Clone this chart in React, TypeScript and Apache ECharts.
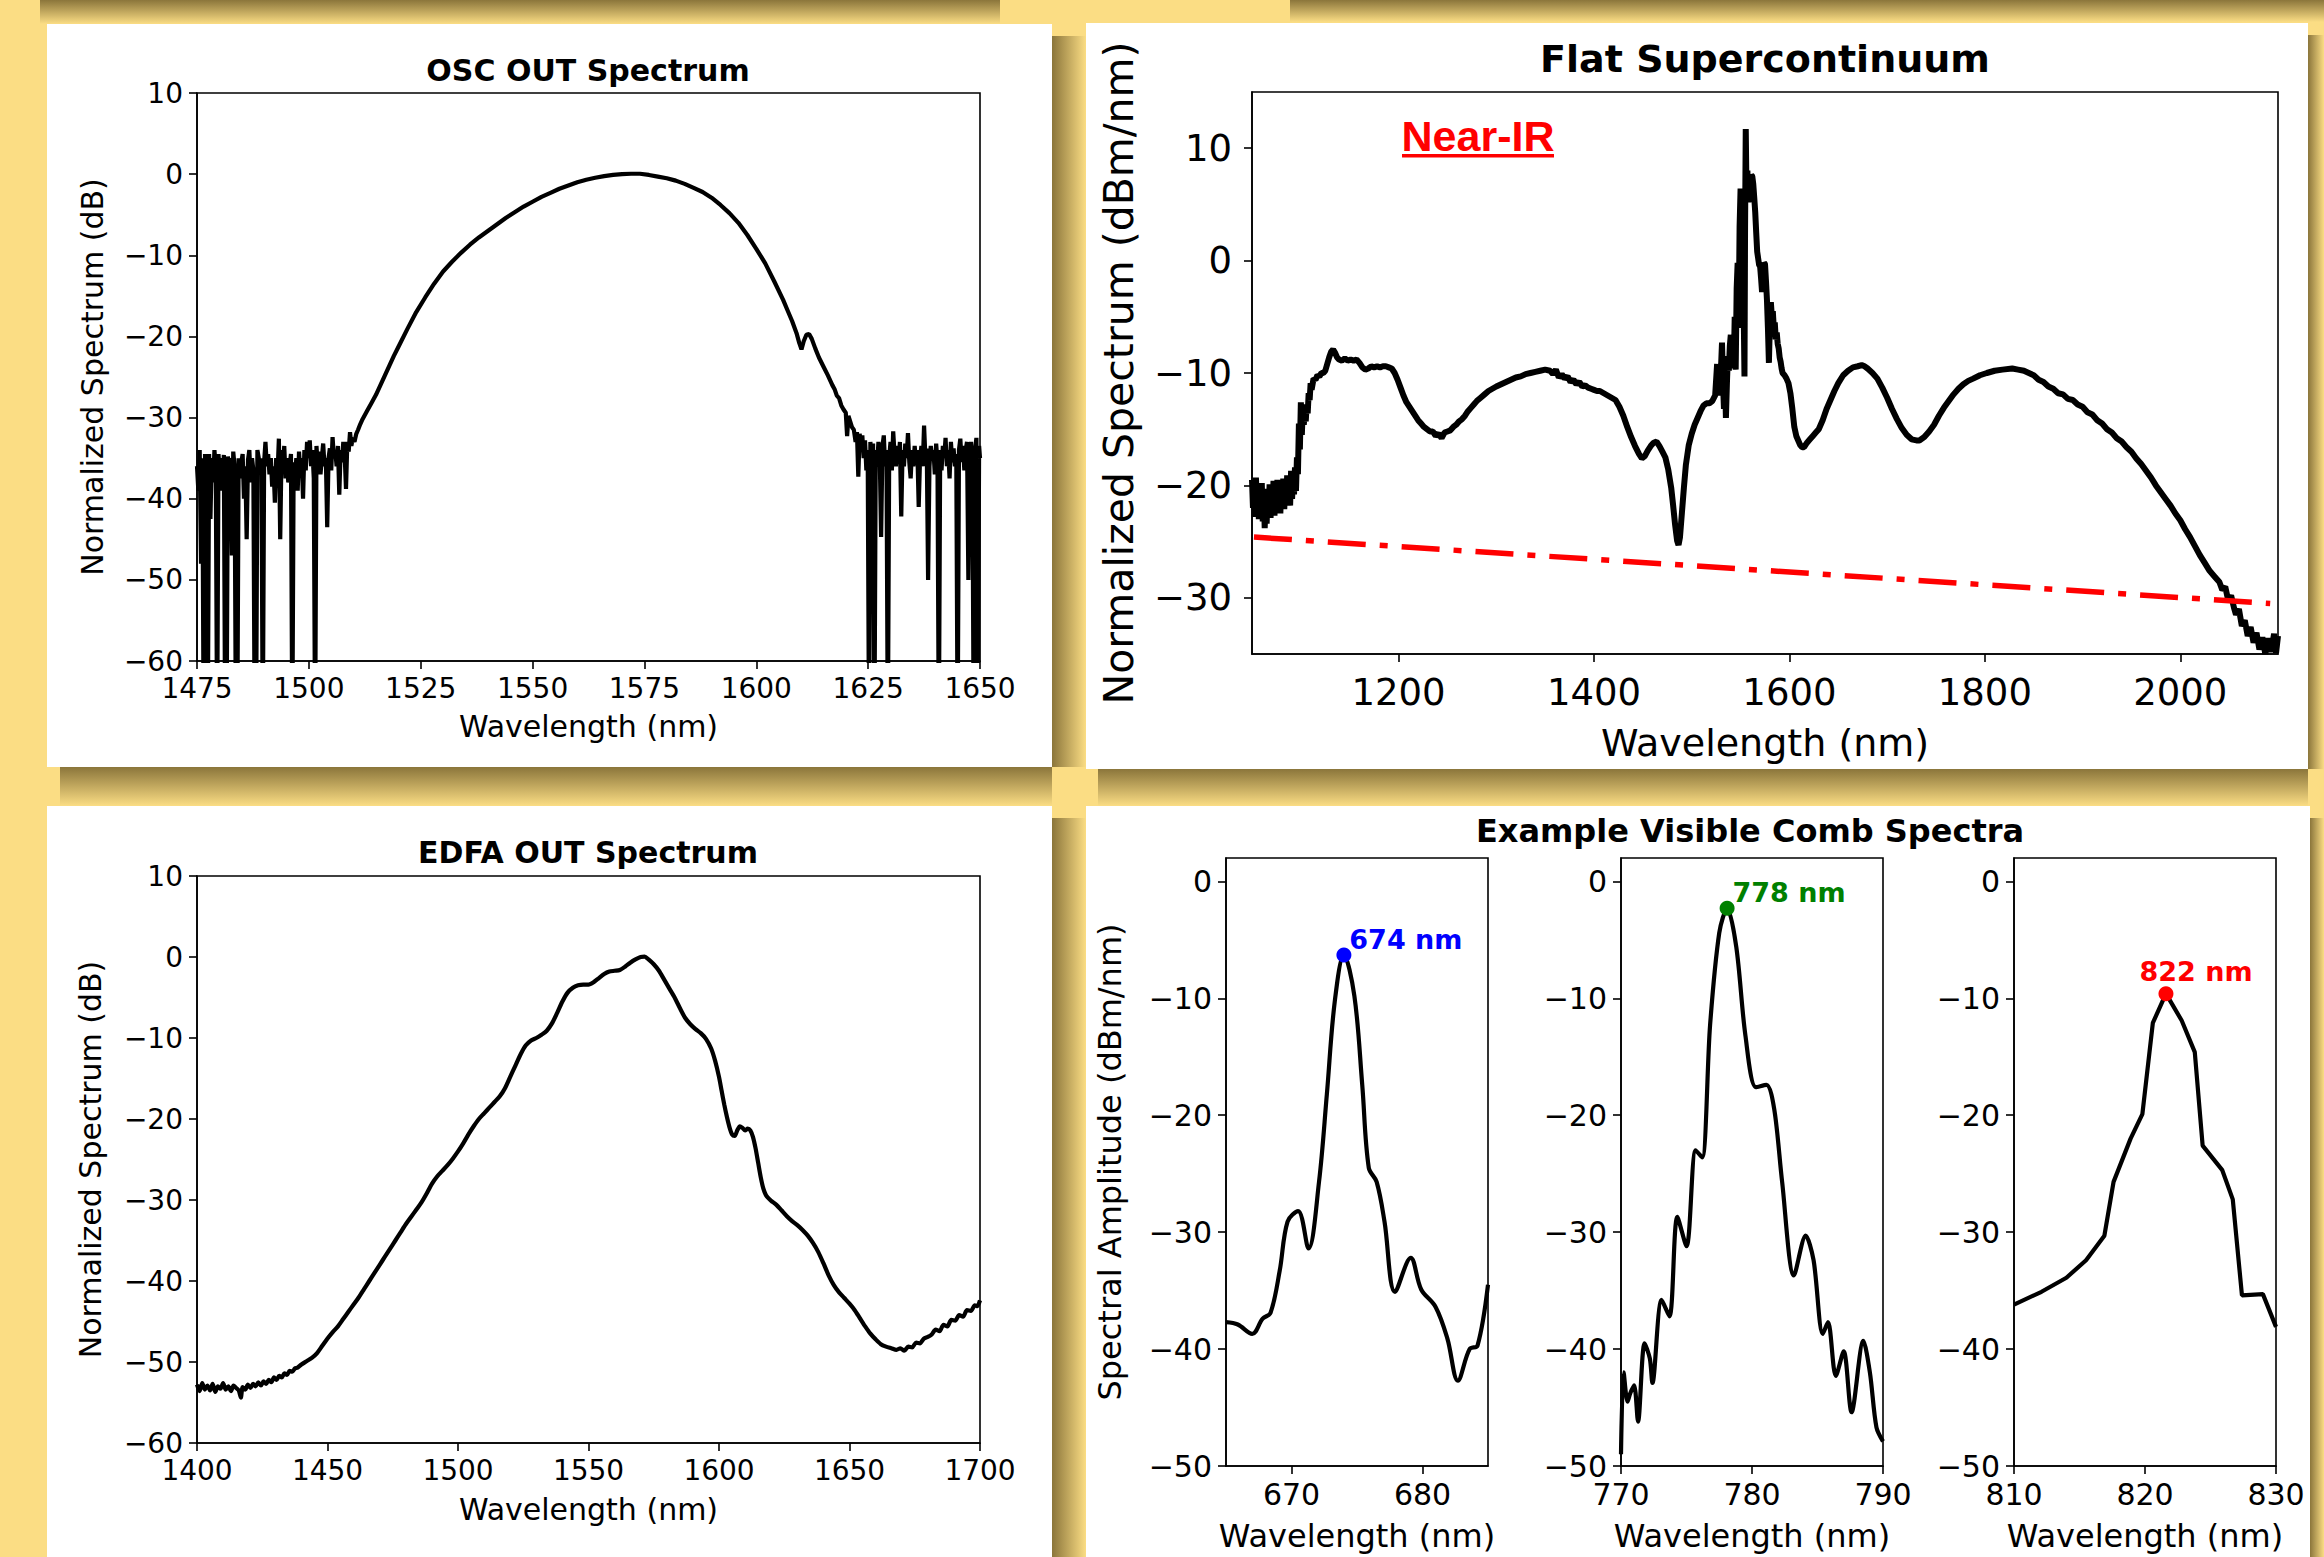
import React, { useEffect, useRef } from "react";
import * as echarts from "echarts";

// ================= DATA =================
const oscOutSpectrum: number[][] = [
  [1475.0,-36],[1475.3,-39],[1475.6,-34],[1475.9,-48],[1476.2,-35],[1476.5,-70],[1476.8,-34.5],[1477.1,-38],[1477.4,-70],[1477.7,-34.5],
  [1478.0,-42.5],[1478.3,-35],[1478.6,-38],[1478.9,-34],[1479.2,-36.5],[1479.5,-70],[1479.8,-34.5],[1480.1,-37],[1480.4,-35],[1480.7,-39],
  [1481.0,-34.6],[1481.3,-70],[1481.6,-70],[1481.9,-34.8],[1482.2,-36],[1482.5,-35],[1482.8,-47],[1483.1,-34.2],[1483.4,-36],[1483.7,-70],
  [1484.0,-70],[1484.3,-35],[1484.6,-37.5],[1484.9,-35.5],[1485.2,-34.5],[1485.5,-40],[1485.8,-36],[1486.1,-45],[1486.4,-35.2],[1486.7,-34],
  [1487.0,-38],[1487.3,-35],[1487.6,-36.5],[1487.9,-70],[1488.2,-70],[1488.5,-34],[1488.8,-35],[1489.1,-37],[1489.4,-35],[1489.7,-70],
  [1490.0,-35.5],[1490.3,-33],[1490.6,-36],[1490.9,-34.5],[1491.2,-37],[1491.5,-35],[1491.8,-38.5],[1492.1,-36],[1492.4,-40.5],[1492.7,-35],
  [1493.0,-37],[1493.3,-32.6],[1493.6,-45],[1493.9,-34],[1494.2,-36],[1494.5,-33.5],[1494.8,-37.5],[1495.1,-35],[1495.4,-38],[1495.7,-36],
  [1496.0,-34.5],[1496.3,-70],[1496.6,-35.5],[1496.9,-37.5],[1497.2,-35],[1497.5,-39],[1497.8,-34.2],[1498.1,-37],[1498.4,-35],[1498.7,-40],
  [1499.0,-34],[1499.3,-36.5],[1499.6,-33],[1499.9,-35],[1500.2,-32.8],[1500.5,-36],[1500.8,-34],[1501.1,-37.5],[1501.4,-70],[1501.7,-33.5],
  [1502.0,-36],[1502.3,-34.2],[1502.6,-37],[1502.9,-35],[1503.2,-33.2],[1503.5,-36],[1503.8,-35],[1504.1,-43.5],[1504.4,-35],[1504.7,-33.8],
  [1505.0,-36.5],[1505.3,-32.4],[1505.6,-35],[1505.9,-34],[1506.2,-36],[1506.5,-33.5],[1506.8,-39.5],[1507.1,-34],[1507.4,-35.5],[1507.7,-33],
  [1508.0,-34.5],[1508.3,-38.8],[1508.6,-33],[1508.9,-34.2],[1509.2,-31.8],[1509.5,-33.5],[1509.8,-32.5],[1510.2,-33],[1510.6,-32],[1511.0,-31.5],
  [1511.5,-30.8],[1512,-30.2],[1513,-29.2],[1514,-28.2],[1515,-27.2],[1516,-26.0],[1517,-24.8],[1518,-23.6],[1519,-22.4],[1520,-21.3],
  [1522,-19.1],[1524,-17.0],[1526,-15.2],[1528,-13.5],[1530,-12.0],[1532,-10.8],[1534,-9.7],[1536,-8.7],[1538,-7.8],[1540,-7.0],
  [1542,-6.2],[1544,-5.4],[1546,-4.7],[1548,-4.0],[1550,-3.4],[1552,-2.8],[1554,-2.3],[1556,-1.8],[1558,-1.4],[1560,-1.0],
  [1562,-0.7],[1564,-0.45],[1566,-0.25],[1568,-0.1],[1570,0],[1572,0.05],[1574,0.05],[1576,-0.1],[1578,-0.3],[1580,-0.5],
  [1582,-0.8],[1584,-1.2],[1586,-1.7],[1588,-2.2],[1590,-2.9],[1592,-3.8],[1594,-4.8],[1596,-6.0],[1598,-7.5],[1600,-9.2],
  [1602,-11.0],[1604,-13.2],[1606,-15.5],[1607,-16.8],[1608,-18.1],[1609,-19.6],[1609.6,-20.8],[1610.1,-21.6],[1610.6,-20.6],[1611.2,-19.8],
  [1611.8,-19.7],[1612.4,-20.3],[1613.2,-21.5],[1614,-22.6],[1615,-23.7],[1616,-24.8],[1617,-26.0],[1617.5,-26.5],[1618,-27.3],[1618.5,-27.6],
  [1619,-28.5],[1619.5,-29.0],[1620,-29.4],[1620.3,-32.3],[1620.6,-29.8],[1621,-30.5],[1621.4,-31.2],[1621.8,-31.5],
  [1622.2,-33],[1622.5,-31.8],[1622.8,-37.3],[1623.1,-32],[1623.4,-33.5],[1623.7,-32.2],[1624.0,-35],[1624.3,-32.8],[1624.6,-36.5],[1624.9,-34],
  [1625.2,-70],[1625.5,-33],[1625.8,-35.5],[1626.1,-33.2],[1626.4,-70],[1626.7,-34],[1627.0,-36],[1627.3,-33],[1627.6,-35],[1627.9,-44.7],
  [1628.2,-33.5],[1628.5,-32.2],[1628.8,-36],[1629.1,-34],[1629.4,-70],[1629.7,-35],[1630.0,-33],[1630.3,-36.5],[1630.6,-31.7],[1630.9,-34.5],
  [1631.2,-36],[1631.5,-33.5],[1631.8,-35.5],[1632.1,-33],[1632.4,-42.2],[1632.7,-34],[1633.0,-36],[1633.3,-33.2],[1633.6,-35],[1633.9,-31.9],
  [1634.2,-35.5],[1634.5,-37.5],[1634.8,-34],[1635.1,-36],[1635.4,-33.5],[1635.7,-35.5],[1636.0,-34],[1636.3,-41],[1636.6,-35],[1636.9,-33.5],
  [1637.2,-36],[1637.5,-31],[1637.8,-35],[1638.1,-33.8],[1638.4,-50],[1638.7,-36],[1639.0,-33.5],[1639.3,-35],[1639.6,-34],[1639.9,-37],
  [1640.2,-33.2],[1640.5,-35.5],[1640.8,-70],[1641.1,-34],[1641.4,-36.5],[1641.7,-33.5],[1642.0,-35],[1642.3,-32.5],[1642.6,-36],[1642.9,-34],
  [1643.2,-37.5],[1643.5,-33],[1643.8,-35.5],[1644.1,-33.8],[1644.4,-36],[1644.7,-34.5],[1645.0,-70],[1645.3,-34],[1645.6,-32.6],[1645.9,-35.5],
  [1646.2,-33.5],[1646.5,-36.5],[1646.8,-34],[1647.1,-33],[1647.4,-50],[1647.7,-34.5],[1648.0,-33],[1648.3,-36],[1648.6,-70],[1648.9,-34],
  [1649.2,-32.5],[1649.5,-70],[1649.8,-33.5],[1650,-35]
];

const edfaOutSpectrum: number[][] = [
  [1400,-52.8],[1401,-53.6],[1402,-52.6],[1403,-53.4],[1404,-52.9],[1405,-53.5],[1406,-52.7],[1407,-53.7],[1408,-53.0],[1409,-53.3],
  [1410,-52.6],[1411,-53.4],[1412,-53.0],[1413,-53.6],[1414,-52.9],[1415,-53.2],[1416,-53.5],[1416.8,-54.4],[1417.5,-53.1],[1418.5,-53.4],
  [1419.5,-52.8],[1420.5,-53.2],[1421.5,-52.7],[1422.5,-53.0],[1423.5,-52.5],[1424.5,-52.9],[1425.5,-52.4],[1426.5,-52.7],[1427.5,-52.2],[1428.5,-52.5],
  [1429.5,-51.9],[1430.5,-52.2],[1431.5,-51.7],[1432.5,-51.9],[1433.5,-51.4],[1434.5,-51.6],[1435.5,-51.1],[1436.5,-51.2],[1437.5,-50.8],[1438.5,-50.7],
  [1440,-50.3],[1442,-49.9],[1444,-49.5],[1446,-48.9],[1448,-48.0],[1450,-47.1],[1452,-46.3],[1454,-45.6],[1456,-44.7],[1458,-43.8],
  [1460,-42.9],[1462,-42.0],[1464,-41.0],[1466,-40.0],[1468,-39.0],[1470,-38.0],[1472,-37.0],[1474,-36.0],[1476,-35.0],[1478,-34.0],
  [1480,-33.0],[1482,-32.1],[1484,-31.2],[1486,-30.3],[1488,-29.2],[1490,-28.0],[1492,-27.1],[1494,-26.4],[1496,-25.7],[1498,-24.9],
  [1500,-24.0],[1502,-23.0],[1504,-21.9],[1506,-20.9],[1508,-20.0],[1510,-19.3],[1512,-18.6],[1514,-17.9],[1516,-17.2],[1518,-16.2],
  [1520,-14.8],[1522,-13.4],[1524,-12.0],[1526,-10.9],[1528,-10.3],[1530,-10.0],[1532,-9.6],[1534,-9.1],[1536,-8.2],[1538,-6.9],
  [1540,-5.5],[1542,-4.4],[1544,-3.8],[1546,-3.5],[1548,-3.4],[1550,-3.4],[1552,-3.1],[1554,-2.6],[1556,-2.1],[1558,-1.8],
  [1560,-1.7],[1562,-1.6],[1564,-1.2],[1566,-0.7],[1568,-0.3],[1570,0],[1571.5,0.05],[1573,-0.3],[1575,-0.9],[1577,-1.7],
  [1579,-2.8],[1581,-3.9],[1583,-5.0],[1585,-6.3],[1587,-7.5],[1589,-8.3],[1591,-8.9],[1593,-9.4],[1595,-10.1],[1597,-11.3],
  [1598.5,-12.8],[1600,-14.8],[1601,-16.5],[1602,-18.2],[1603,-19.7],[1604,-21.0],[1605,-21.9],[1606,-22.1],[1607,-21.4],[1608,-20.9],
  [1609,-21.1],[1610,-21.4],[1611,-21.2],[1612,-21.4],[1613,-22.2],[1614,-23.6],[1615,-25.4],[1616,-27.2],[1617,-28.6],[1618,-29.4],
  [1619,-29.8],[1620,-30.1],[1622,-30.6],[1624,-31.3],[1626,-32.0],[1628,-32.6],[1630,-33.1],[1632,-33.7],[1634,-34.4],[1636,-35.3],
  [1638,-36.4],[1640,-37.8],[1642,-39.3],[1644,-40.5],[1646,-41.4],[1648,-42.1],[1650,-42.8],[1652,-43.6],[1654,-44.6],[1656,-45.6],
  [1658,-46.5],[1660,-47.2],[1662,-47.8],[1664,-48.1],[1666,-48.3],[1668,-48.5],[1669.5,-48.3],[1671,-48.6],[1672.5,-48.1],[1674,-48.2],
  [1675.5,-47.6],[1677,-47.7],[1678.5,-47.1],[1680,-46.9],[1681.5,-46.6],[1683,-46.0],[1684.5,-46.2],[1686,-45.4],[1687.5,-45.6],[1689,-44.8],
  [1690.5,-44.9],[1692,-44.2],[1693.5,-44.4],[1695,-43.6],[1696.5,-43.7],[1698,-43.0],[1699,-43.1],[1700,-42.4]
];

const supercontinuumSpectrum: number[][] = [
  [1050,-19.5],[1051,-22],[1052,-20],[1053,-22.8],[1054,-19.3],[1055,-21.5],[1056,-20.2],[1057,-23],[1058,-20.5],[1059,-22.4],
  [1060,-19.8],[1061,-23.2],[1062,-20.6],[1063,-23.8],[1064,-21],[1065,-23.4],[1066,-20.3],[1067,-22.6],[1068,-19.9],[1069,-22.9],
  [1070,-20.4],[1071,-22.2],[1072,-19.6],[1073,-22.7],[1074,-20.1],[1075,-22.3],[1076,-19.5],[1077,-21.8],[1078,-20.3],[1079,-22.5],
  [1080,-19.8],[1081,-21.9],[1082,-19.4],[1083,-22.1],[1084,-20.2],[1085,-21.6],[1086,-19.1],[1087,-21.3],[1088,-19.7],[1089,-21.8],
  [1090,-18.7],[1091,-21.2],[1092,-19.5],[1093,-20.8],[1094,-18.4],[1095,-20.5],[1096,-17.5],[1097,-19.0],[1098,-14.5],[1099,-16.8],
  [1100,-12.6],[1101,-15.5],[1102,-13.2],[1103,-14.6],[1104,-13.5],[1105,-14.3],[1106,-12.8],[1107,-13.6],[1108,-11.8],[1109,-12.4],
  [1110,-10.9],[1111,-11.5],[1113,-10.5],[1115,-10.6],[1117,-10.2],[1119,-10.3],[1121,-10.0],[1123,-10.0],[1125,-9.8],[1127,-9.2],
  [1129,-8.6],[1131,-8.1],[1133,-7.9],[1135,-8.2],[1137,-8.6],[1139,-8.8],[1142,-8.9],[1145,-8.7],[1148,-8.9],[1151,-8.8],
  [1154,-8.9],[1157,-8.8],[1160,-9.1],[1163,-9.5],[1166,-9.7],[1169,-9.6],[1172,-9.4],[1175,-9.5],[1178,-9.4],[1181,-9.5],
  [1184,-9.4],[1187,-9.4],[1190,-9.5],[1193,-9.6],[1196,-10.0],[1199,-10.6],[1202,-11.3],[1205,-12.0],[1208,-12.6],[1211,-13.0],
  [1214,-13.4],[1217,-13.8],[1220,-14.2],[1223,-14.5],[1226,-14.8],[1229,-15.0],[1232,-15.2],[1235,-15.2],[1238,-15.6],[1241,-15.4],
  [1244,-15.8],[1247,-15.3],[1250,-15.2],[1253,-15.1],[1256,-14.8],[1259,-14.6],[1262,-14.3],[1265,-14.1],[1268,-13.8],[1271,-13.4],
  [1274,-13.1],[1277,-12.8],[1280,-12.5],[1284,-12.2],[1288,-11.9],[1292,-11.6],[1296,-11.4],[1300,-11.2],[1305,-11.0],[1310,-10.8],
  [1315,-10.6],[1320,-10.4],[1325,-10.3],[1330,-10.1],[1335,-10.0],[1340,-9.9],[1345,-9.8],[1350,-9.7],[1355,-9.8],[1358,-10.1],
  [1361,-9.7],[1364,-10.4],[1367,-10.1],[1370,-10.5],[1373,-10.3],[1376,-10.8],[1379,-10.6],[1382,-11.0],[1385,-10.8],[1388,-11.2],
  [1391,-11.1],[1394,-11.3],[1397,-11.4],[1400,-11.5],[1403,-11.6],[1406,-11.6],[1410,-11.8],[1414,-12.0],[1418,-12.2],[1422,-12.4],
  [1426,-13.0],[1430,-13.8],[1434,-14.8],[1438,-15.7],[1442,-16.5],[1446,-17.2],[1449,-17.6],[1452,-17.4],[1455,-16.9],[1458,-16.5],
  [1461,-16.2],[1464,-16.1],[1467,-16.5],[1470,-17.0],[1473,-17.5],[1476,-18.6],[1479,-20.2],[1481,-21.8],[1483,-23.5],[1485,-24.9],
  [1486.5,-25.3],[1488,-24.6],[1490,-22.4],[1492,-20.2],[1494,-18.2],[1497,-16.4],[1500,-15.4],[1503,-14.6],[1506,-14.0],[1509,-13.4],
  [1512,-12.9],[1515,-12.7],[1518,-12.7],[1521,-12.5],[1524,-12.0],[1526,-9.2],[1527,-11.5],[1528,-10.6],[1529,-12.0],[1530,-9.5],
  [1531,-7.3],[1532,-10.8],[1533,-13.2],[1534,-10.2],[1535,-14.0],[1536,-11.0],[1537,-8.5],[1538,-9.8],[1539,-7.6],[1540,-6.6],
  [1541,-8.9],[1542,-7.0],[1543,-9.6],[1544,-5.0],[1545,-9.7],[1546,-2.5],[1547,-0.2],[1548,-6.0],[1549,3.0],[1550,6.4],
  [1551,2.0],[1552,5.5],[1553,-3.0],[1554,-10.3],[1554.6,3.0],[1555.3,11.7],[1556,6.5],[1557,8.0],[1558,5.2],[1559,5.8],
  [1560,7.0],[1561,7.6],[1562,7.5],[1563,6.8],[1564,5.6],[1565,4.3],[1566,2.5],[1567,0.8],[1568,0.2],[1569,-0.4],
  [1570,-0.5],[1571,-1.6],[1572,-2.8],[1573,-1.0],[1574,-0.2],[1575,-0.3],[1576,-1.8],[1577,-3.5],[1578,-6.0],[1579,-9.1],
  [1580,-5.5],[1581,-3.7],[1582,-5.0],[1583,-4.5],[1584,-6.0],[1585,-5.5],[1586,-7.0],[1587,-6.4],[1588,-7.4],[1589,-7.8],
  [1590,-8.6],[1591,-9.0],[1592,-9.6],[1593,-10.0],[1595,-10.2],[1597,-10.5],[1599,-10.9],[1601,-11.8],[1603,-13.2],[1605,-14.8],
  [1607,-15.6],[1609,-16.0],[1611,-16.4],[1613,-16.6],[1615,-16.6],[1618,-16.2],[1621,-15.9],[1624,-15.6],[1627,-15.3],[1630,-15.0],
  [1634,-14.2],[1638,-13.2],[1642,-12.4],[1646,-11.6],[1650,-10.9],[1655,-10.2],[1660,-9.8],[1665,-9.5],[1670,-9.4],[1674,-9.3],
  [1677,-9.4],[1680,-9.6],[1685,-10.0],[1690,-10.5],[1695,-11.3],[1700,-12.2],[1705,-13.2],[1710,-14.1],[1715,-14.9],[1720,-15.5],
  [1725,-15.9],[1730,-16.0],[1733,-16.0],[1738,-15.7],[1743,-15.2],[1748,-14.6],[1753,-13.8],[1758,-13.1],[1763,-12.5],[1768,-11.9],
  [1773,-11.4],[1778,-11.0],[1783,-10.7],[1788,-10.5],[1795,-10.2],[1802,-10.0],[1810,-9.8],[1818,-9.7],[1828,-9.6],[1834,-9.7],
  [1840,-9.8],[1845,-10.0],[1850,-10.2],[1855,-10.6],[1860,-10.8],[1865,-11.2],[1870,-11.4],[1875,-11.8],[1880,-11.9],[1885,-12.3],
  [1890,-12.4],[1895,-12.8],[1900,-13.0],[1905,-13.5],[1910,-13.7],[1915,-14.2],[1920,-14.5],[1925,-15.0],[1930,-15.3],[1935,-15.8],
  [1940,-16.1],[1945,-16.6],[1950,-17.0],[1955,-17.6],[1960,-18.1],[1965,-18.7],[1970,-19.3],[1975,-20.0],[1980,-20.6],[1985,-21.2],
  [1990,-21.8],[1995,-22.5],[2000,-23.1],[2005,-23.9],[2010,-24.6],[2015,-25.4],[2020,-26.2],[2025,-26.9],[2030,-27.6],[2035,-28.1],
  [2040,-28.6],[2043,-29.3],[2046,-29.0],[2049,-30.2],[2052,-29.8],[2055,-30.9],[2057,-31.5],[2060,-31.0],[2063,-32.5],[2066,-32.0],
  [2069,-33.4],[2072,-32.6],[2075,-34.0],[2078,-33.1],[2081,-34.6],[2084,-33.5],[2087,-35.0],[2090,-33.6],[2093,-34.8],[2096,-33.2],
  [2098,-34.9],[2100,-33.4]
];

const supercontinuumFloor: number[][] = [[1052, -24.6], [2092, -30.5]];

const comb674Spectrum: number[][] = [
  [665,-37.7],[665.9,-37.9],[667,-38.7],[667.8,-37.4],[668.4,-36.9],[669.1,-33.3],[669.7,-29.1],[670.5,-28.2],[671.3,-31.4],[672.1,-25.7],
  [672.7,-18.2],[673.3,-10.3],[674,-6.3],[674.8,-9.8],[675.4,-17.4],[675.9,-24.5],[676.5,-25.7],[677.1,-29.1],[677.9,-35.1],[679.1,-32.2],
  [679.9,-34.9],[681,-36.4],[681.9,-39.1],[682.7,-42.7],[683.6,-40],[684.2,-39.7],[685,-34.5]
];
const comb778Spectrum: number[][] = [
  [770,-49],[770.2,-42],[770.5,-44.5],[770.7,-43.8],[771,-43.1],[771.3,-46.2],[771.8,-39.5],[772.2,-40.8],[772.4,-42.9],[773.1,-35.8],
  [773.7,-37.2],[774.3,-28.7],[775,-31.2],[775.7,-23],[776.2,-23.6],[776.8,-12.3],[777.5,-4.4],[778.1,-2.3],[778.8,-5.6],[779.5,-13.2],
  [780.3,-17.6],[781.1,-17.4],[781.7,-19.5],[782.3,-25.7],[783.2,-33.7],[784.1,-30.3],[784.7,-32.4],[785.4,-38.7],[785.8,-37.7],[786.4,-42.3],
  [787,-40.2],[787.6,-45.4],[788.5,-39.3],[789,-42],[789.5,-46.7],[790,-47.9]
];
const comb822Spectrum: number[][] = [
  [810,-36.2],[812.1,-35.1],[814,-33.9],[815.5,-32.4],[816.9,-30.3],[817.6,-25.7],[818.9,-22],[819.8,-19.9],[820.6,-12.1],[821.6,-9.6],
  [822.8,-11.9],[823.8,-14.6],[824.4,-22.6],[825.9,-24.7],[826.7,-27.2],[827.4,-35.4],[829,-35.3],[830,-38.1]
];
const combPeakPoints: number[][] = [[674, -6.3], [778.1, -2.3], [821.6, -9.6]];
const combPeakLabels = ["674 nm", "778 nm", "822 nm"];

const oscXRange = [1475, 1650];
const oscXTicks = [1475, 1500, 1525, 1550, 1575, 1600, 1625, 1650];
const dbYRange = [-60, 10];
const dbYTicks = [-60, -50, -40, -30, -20, -10, 0, 10];
const edfaXRange = [1400, 1700];
const edfaXTicks = [1400, 1450, 1500, 1550, 1600, 1650, 1700];
const scXRange = [1050, 2100];
const scXTicks = [1200, 1400, 1600, 1800, 2000];
const scYRange = [-35, 15];
const scYTicks = [-30, -20, -10, 0, 10];
const combXRanges = [[665, 685], [770, 790], [810, 830]];
const combXTicks = [[670, 680], [770, 780, 790], [810, 820, 830]];
const combYRange = [-50, 2];
const combYTicks = [-50, -40, -30, -20, -10, 0];

// ================= LAYOUT / STYLE =================
const W = 2324;
const H = 1557;
const FONT = "DejaVu Sans";
const minus = (v: number) => String(v).replace("-", "\u2212");

function xAx(gridIndex: number, range: number[], ticks: number[], fs: number, margin: number, name: string, nameFs: number, nameGap: number) {
  return {
    type: "value", gridIndex, min: range[0], max: range[1], position: "bottom",
    axisLine: { show: true, onZero: false, lineStyle: { color: "#000", width: 1.6 } },
    axisTick: { show: true, inside: false, length: 8, customValues: ticks, lineStyle: { color: "#000", width: 1.6 } },
    axisLabel: { show: true, customValues: ticks, color: "#000", fontFamily: FONT, fontSize: fs, margin, formatter: minus },
    splitLine: { show: false },
    name, nameLocation: "middle", nameGap,
    nameTextStyle: { color: "#000", fontFamily: FONT, fontSize: nameFs },
  };
}
function yAx(gridIndex: number, range: number[], ticks: number[], fs: number, margin: number, name: string, nameFs: number, nameGap: number) {
  return {
    type: "value", gridIndex, min: range[0], max: range[1], position: "left",
    axisLine: { show: true, onZero: false, lineStyle: { color: "#000", width: 1.6 } },
    axisTick: { show: true, inside: false, length: 8, customValues: ticks, lineStyle: { color: "#000", width: 1.6 } },
    axisLabel: { show: true, customValues: ticks, color: "#000", fontFamily: FONT, fontSize: fs, margin, formatter: minus },
    splitLine: { show: false },
    name, nameLocation: "middle", nameGap, nameRotate: 90,
    nameTextStyle: { color: "#000", fontFamily: FONT, fontSize: nameFs },
  };
}

const SHADOW = "rgba(70,54,14,0.62)";
const SHADOW0 = "rgba(70,54,14,0)";
function vStrip(x: number, y: number, w: number, h: number) {
  return {
    type: "rect", z: -50, shape: { x, y, width: w, height: h },
    style: { fill: new echarts.graphic.LinearGradient(0, 0, 1, 0, [{ offset: 0, color: SHADOW }, { offset: 1, color: SHADOW0 }]) },
  };
}
function hStrip(x: number, y: number, w: number, h: number) {
  return {
    type: "rect", z: -50, shape: { x, y, width: w, height: h },
    style: { fill: new echarts.graphic.LinearGradient(0, 0, 0, 1, [{ offset: 0, color: SHADOW }, { offset: 1, color: SHADOW0 }]) },
  };
}
function panel(x: number, y: number, w: number, h: number) {
  return { type: "rect", z: -40, shape: { x, y, width: w, height: h }, style: { fill: "#ffffff" } };
}
function txt(text: string, x: number, y: number, size: number, extra: any = {}) {
  return {
    type: "text", z: 50, x, y,
    style: {
      text, fill: "#000", fontFamily: FONT, fontWeight: "bold", fontSize: size,
      textAlign: "center", textVerticalAlign: "middle", align: "center", verticalAlign: "middle", ...extra,
    },
  };
}

function lineSeries(xi: number, data: number[][], width: number, extra: any = {}) {
  return {
    type: "line", xAxisIndex: xi, yAxisIndex: xi, data, symbol: "none", showSymbol: false,
    lineStyle: { color: "#000", width }, silent: true, clip: true, z: 3, ...extra,
  };
}

const peakColors = ["#0000ff", "#008000", "#ff0000"];
const peakOffsets = [[62, -16], [62, -16], [30, -22]];

export default function App() {
  const ref = useRef<HTMLDivElement>(null);
  useEffect(() => {
    if (!ref.current) return;
    const chart = echarts.init(ref.current, undefined, { renderer: "svg", width: W, height: H });
    const grids = [
      { left: 197, top: 93, width: 783, height: 568 },
      { left: 1252, top: 92, width: 1026, height: 562 },
      { left: 197, top: 876, width: 783, height: 567 },
      { left: 1226, top: 858, width: 262, height: 608 },
      { left: 1621, top: 858, width: 262, height: 608 },
      { left: 2014, top: 858, width: 262, height: 608 },
    ].map((g) => ({ ...g, show: true, borderColor: "#000", borderWidth: 1.6, backgroundColor: "rgba(0,0,0,0)", containLabel: false }));

    const option: any = {
      animation: false,
      backgroundColor: "#FBDD84",
      textStyle: { fontFamily: FONT },
      grid: grids,
      xAxis: [
        xAx(0, oscXRange, oscXTicks, 28, 13, "Wavelength (nm)", 30, 50),
        xAx(1, scXRange, scXTicks, 37, 20, "Wavelength (nm)", 38, 70),
        xAx(2, edfaXRange, edfaXTicks, 28, 13, "Wavelength (nm)", 30, 51),
        xAx(3, combXRanges[0], combXTicks[0], 30, 13, "Wavelength (nm)", 32, 54),
        xAx(4, combXRanges[1], combXTicks[1], 30, 13, "Wavelength (nm)", 32, 54),
        xAx(5, combXRanges[2], combXTicks[2], 30, 13, "Wavelength (nm)", 32, 54),
      ],
      yAxis: [
        yAx(0, dbYRange, dbYTicks, 28, 14, "Normalized Spectrum (dB)", 30, 90),
        yAx(1, scYRange, scYTicks, 37, 20, "Normalized Spectrum (dBm/nm)", 41, 113),
        yAx(2, dbYRange, dbYTicks, 28, 14, "Normalized Spectrum (dB)", 30, 92),
        yAx(3, combYRange, combYTicks, 30, 14, "Spectral Amplitude (dBm/nm)", 32, 100),
        yAx(4, combYRange, combYTicks, 30, 14, "", 32, 100),
        yAx(5, combYRange, combYTicks, 30, 14, "", 32, 100),
      ],
      graphic: [
        hStrip(40, 0, 960, 24),
        hStrip(1290, 0, 1034, 22),
        vStrip(1052, 36, 34, 731),
        hStrip(60, 767, 992, 39),
        vStrip(2308, 35, 16, 734),
        hStrip(1098, 769, 1210, 37),
        vStrip(1052, 818, 34, 739),
        vStrip(2310, 818, 14, 739),
        panel(47, 24, 1005, 743),
        panel(1086, 23, 1222, 746),
        panel(47, 806, 1005, 760),
        panel(1086, 806, 1224, 760),
        txt("OSC OUT Spectrum", 588, 70, 30),
        txt("Flat Supercontinuum", 1765, 59, 38),
        txt("EDFA OUT Spectrum", 588, 852, 30),
        txt("Example Visible Comb Spectra", 1750, 831, 32),
        txt("Near-IR", 1478, 136, 43, { fill: "#ff0000", fontFamily: "Liberation Sans" }),
        { type: "rect", z: 50, shape: { x: 1402, y: 154, width: 152, height: 3.5 }, style: { fill: "#ff0000" } },
      ],
      series: [
        lineSeries(0, oscOutSpectrum, 4.2),
        lineSeries(1, supercontinuumSpectrum, 6),
        {
          type: "line", xAxisIndex: 1, yAxisIndex: 1, data: supercontinuumFloor, symbol: "none", silent: true, z: 4,
          lineStyle: { color: "#ff0000", width: 5.5, type: [38, 14, 8, 14] },
        },
        lineSeries(2, edfaOutSpectrum, 4.2, { smooth: 0.25 }),
        lineSeries(3, comb674Spectrum, 4.2, { smooth: 0.35 }),
        lineSeries(4, comb778Spectrum, 4.2, { smooth: 0.3 }),
        lineSeries(5, comb822Spectrum, 4.2),
        ...combPeakPoints.map((p, i) => ({
          type: "scatter", xAxisIndex: 3 + i, yAxisIndex: 3 + i, data: [p], symbolSize: 15, z: 5, silent: true,
          itemStyle: { color: peakColors[i], opacity: 1 },
          label: {
            show: true, formatter: combPeakLabels[i], position: "inside", offset: peakOffsets[i], opacity: 1,
            color: peakColors[i], fontFamily: FONT, fontWeight: "bold", fontSize: 27,
          },
        })),
      ],
    };
    chart.setOption(option);
    return () => chart.dispose();
  }, []);
  return <div ref={ref} style={{ position: "absolute", left: 0, top: 0, width: W, height: H }} />;
}
